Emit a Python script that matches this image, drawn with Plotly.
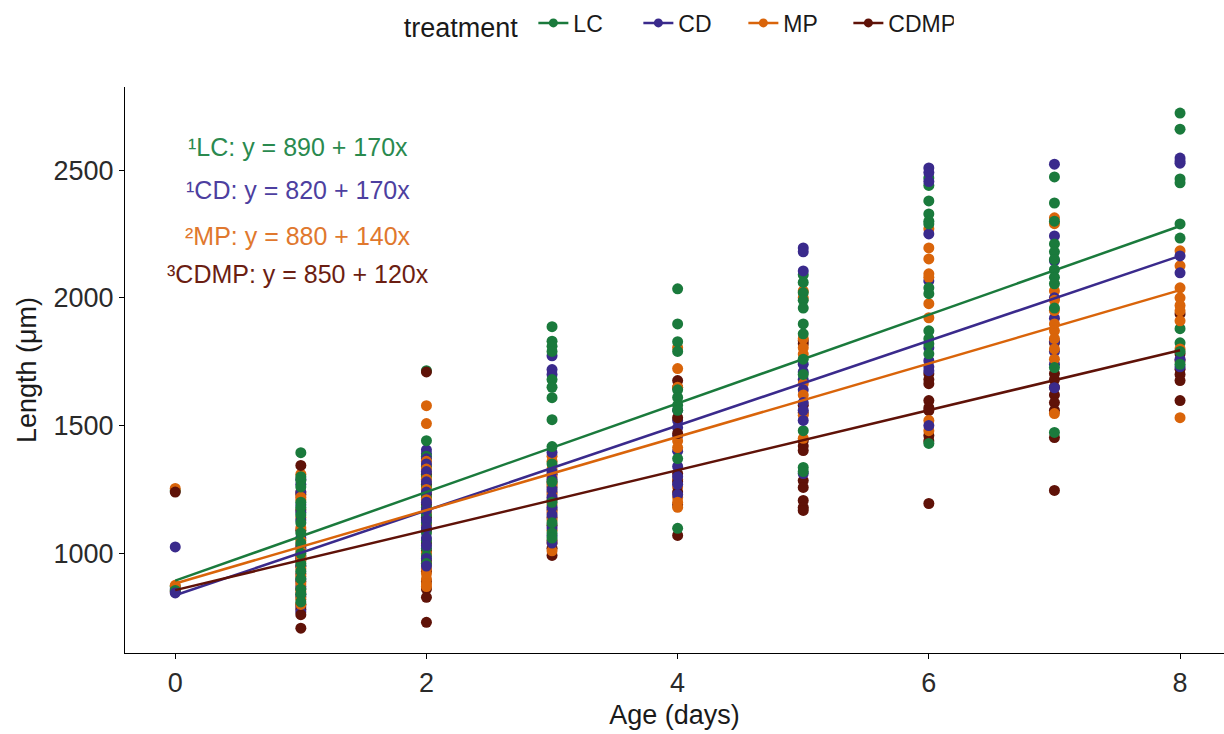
import plotly.graph_objects as go

treatments = ["LC", "CD", "MP", "CDMP"]
colors = ["#1a7a3c", "#3a2a8c", "#d9640a", "#5f1208"]
text_colors = ["#2a8a4f", "#4d3fa0", "#e0782e", "#6b1e12"]
days = [0, 1, 2, 3, 4, 5, 6, 7, 8]

# Observed lengths (µm) per day (index = age in days)
lc_len = [
    [1245, 870, 855],
    [1394, 1300, 1285, 1260, 1200, 1180, 1150, 1120, 1080, 1040, 1000, 960, 930, 900, 860, 840, 810],
    [1715, 1441, 1380, 1340, 1300, 1260, 1220, 1180, 1150, 1120, 1080, 1050, 1020, 990, 960],
    [1887, 1830, 1810, 1790, 1680, 1650, 1609, 1523, 1418, 1350, 1280, 1200, 1120, 1080, 1060],
    [2035, 1898, 1828, 1790, 1640, 1610, 1580, 1560, 1371, 1098],
    [2090, 2060, 2020, 1990, 1960, 1898, 1859, 1760, 1700, 1480, 1336, 1320],
    [2469, 2440, 2379, 2328, 2300, 2289, 2039, 2016, 1871, 1840, 1820, 1781, 1430],
    [2473, 2371, 2300, 2211, 2180, 2150, 2110, 2080, 2055, 1960, 1727, 1473],
    [2723, 2660, 2465, 2450, 2289, 2234, 1879, 1824, 1790, 1740],
]
cd_len = [
    [1025, 860, 845],
    [1290, 1270, 1240, 1190, 1160, 1130, 1060, 1020, 980, 950, 900, 870, 840, 790, 770],
    [1405, 1390, 1370, 1350, 1320, 1280, 1240, 1200, 1170, 1130, 1100, 1060, 1030, 980, 950],
    [1773, 1719, 1700, 1395, 1320, 1290, 1250, 1220, 1180, 1150, 1100, 1070, 1040],
    [1560, 1520, 1492, 1460, 1400, 1340, 1300, 1270, 1230],
    [2195, 2180, 2105, 1740, 1710, 1680, 1640, 1590, 1560, 1520, 1312],
    [2508, 2490, 2455, 2250, 2066, 1805, 1754, 1730, 1715, 1500],
    [2523, 2242, 2145, 2000, 1920, 1830, 1790, 1740, 1648],
    [2547, 2535, 2527, 2164, 2098, 1760, 1730],
]
mp_len = [
    [1254, 875],
    [1310, 1240, 1220, 1210, 1140, 1100, 1050, 1010, 990, 970, 940, 910, 880, 850, 820, 800],
    [1578, 1508, 1360, 1330, 1290, 1250, 1210, 1160, 1110, 1000, 960, 940, 920, 900, 880, 870],
    [1380, 1360, 1330, 1300, 1270, 1230, 1190, 1160, 1130, 1090, 1040, 1010],
    [1805, 1723, 1650, 1440, 1414, 1290, 1260, 1219, 1200, 1180],
    [2027, 2000, 1840, 1805, 1780, 1664, 1620, 1540, 1450],
    [2270, 2195, 2152, 2094, 2080, 1977, 1922, 1520, 1480],
    [2313, 2290, 2027, 1990, 1950, 1898, 1871, 1840, 1800, 1760, 1547],
    [2184, 2125, 2039, 2000, 1970, 1949, 1910, 1800, 1531],
]
cdmp_len = [
    [1240, 850],
    [1344, 1230, 1170, 1090, 1030, 990, 975, 950, 920, 890, 860, 830, 800, 780, 760, 707],
    [1710, 1310, 1270, 1230, 1190, 1140, 1090, 1040, 1010, 970, 930, 890, 860, 828, 730],
    [1310, 1280, 1260, 1240, 1210, 1170, 1140, 1110, 1050, 1020, 992],
    [1676, 1648, 1531, 1469, 1312, 1280, 1240, 1190, 1070],
    [1832, 1820, 1580, 1550, 1441, 1420, 1402, 1285, 1258, 1207, 1180, 1168],
    [1703, 1680, 1664, 1598, 1570, 1559, 1461, 1440, 1195],
    [1824, 1703, 1680, 1650, 1620, 1590, 1559, 1453, 1246],
    [1937, 1781, 1754, 1720, 1700, 1676, 1598],
]
all_len = [lc_len, cd_len, mp_len, cdmp_len]

# Fitted model lines (values at day 0 and day 8, as drawn)
fit_day0 = [893, 836, 882, 856]
fit_day8 = [2281, 2164, 2030, 1795]

equations = [
    "\u00b9LC: y = 890 + 170x",
    "\u00b9CD: y = 820 + 170x",
    "\u00b2MP: y = 880 + 140x",
    "\u00b3CDMP: y = 850 + 120x",
]
eq_y = [2590, 2420, 2242, 2094]

fig = go.Figure()

# interleave points so colours mix as in the original
px_, py_, pc_ = [], [], []
for d in days:
    maxn = max(len(t[d]) for t in all_len)
    for i in range(maxn):
        for k, t in enumerate(all_len):
            if i < len(t[d]):
                px_.append(d)
                py_.append(t[d][i])
                pc_.append(colors[k])

fig.add_trace(go.Scatter(x=px_, y=py_, mode="markers",
                         marker=dict(size=11, color=pc_, line=dict(width=0)),
                         showlegend=False, hoverinfo="x+y"))

for k, name in enumerate(treatments):
    fig.add_trace(go.Scatter(x=[days[0], days[-1]], y=[fit_day0[k], fit_day8[k]],
                             mode="lines", line=dict(color=colors[k], width=2.5),
                             showlegend=False))
for k, name in enumerate(treatments):
    fig.add_trace(go.Scatter(x=[None], y=[None], mode="lines+markers", name=name,
                             line=dict(color=colors[k], width=2.5),
                             marker=dict(size=9, color=colors[k])))

for k, txt in enumerate(equations):
    fig.add_annotation(x=0.98, y=eq_y[k], text=txt, showarrow=False,
                       xanchor="center", yanchor="middle",
                       font=dict(size=25, color=text_colors[k]))

fig.update_layout(
    width=1224, height=734,
    margin=dict(l=125, r=0, t=87, b=81),
    paper_bgcolor="white", plot_bgcolor="white",
    font=dict(family="Liberation Sans, Arial, sans-serif", color="#1a1a1a"),
    legend=dict(orientation="h", x=0.503, xanchor="center", y=0.998, yanchor="top",
                yref="container", title=dict(text="treatment ", font=dict(size=27)),
                font=dict(size=23), entrywidth=60, valign="middle"),
    showlegend=True,
)
fig.update_xaxes(range=[-0.4, 8.35], tickvals=[0, 2, 4, 6, 8], showgrid=False,
                 zeroline=False, showline=True, linecolor="black", linewidth=1.2,
                 ticks="outside", ticklen=5, tickcolor="black",
                 tickfont=dict(size=27, color="#2a2a2a"),
                 title=dict(text="Age (days)", font=dict(size=27), standoff=8))
fig.update_yaxes(range=[610, 2825], tickvals=[1000, 1500, 2000, 2500], showgrid=False,
                 zeroline=False, showline=True, linecolor="black", linewidth=1.2,
                 ticks="outside", ticklen=5, tickcolor="black",
                 tickfont=dict(size=27, color="#2a2a2a"),
                 title=dict(text="Length (\u03bcm)", font=dict(size=27), standoff=8))

fig.write_html("out.html")
